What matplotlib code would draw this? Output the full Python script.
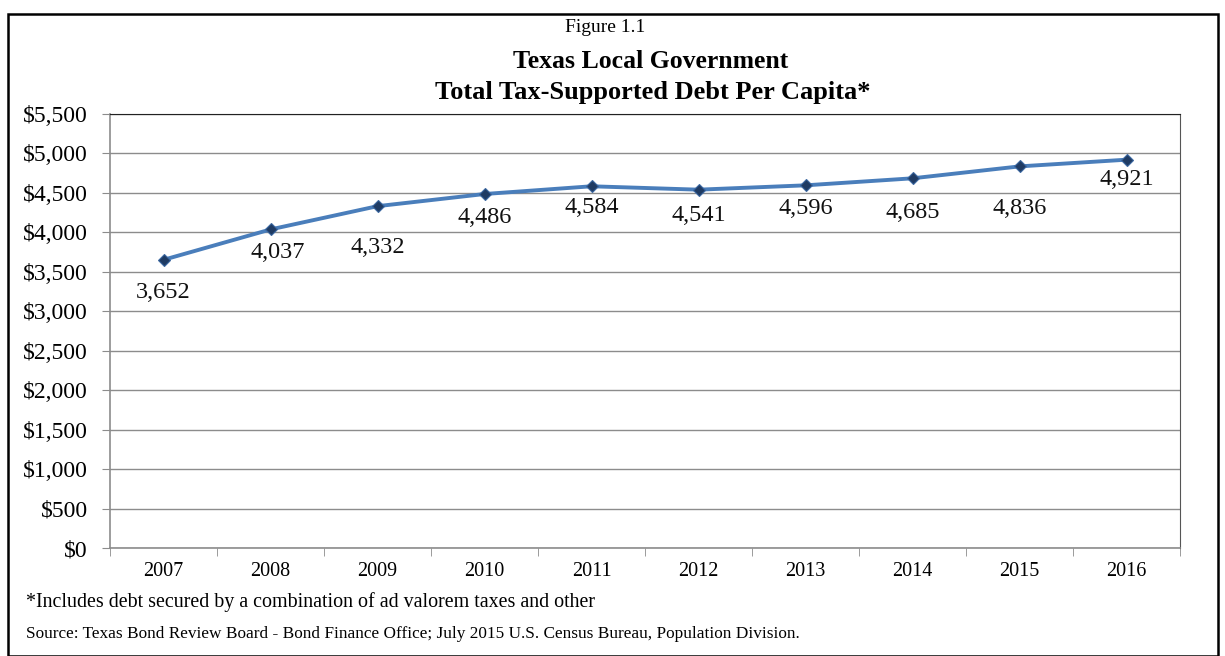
import matplotlib.pyplot as plt
from matplotlib.patches import Rectangle
from matplotlib.ticker import FuncFormatter

years = ['2007', '2008', '2009', '2010', '2011', '2012', '2013', '2014', '2015', '2016']
debt = [3652, 4037, 4332, 4486, 4584, 4541, 4596, 4685, 4836, 4921]
# label placement below each point (points), as Excel laid them out
label_dy = [-16, -9, -22, -9, -8, -11, -9, -17, -23, -7]
label_dx = [0, 5, 0, 0, 0, 0, 0, 0, 0, 0]

plt.rcParams['font.family'] = ['Liberation Serif', 'DejaVu Serif']

fig = plt.figure(figsize=(12.25, 6.56), dpi=100)
W, H = 1225, 656

# outer frame
fig.patches.append(Rectangle((8 / W, 0), 1210 / W, (656 - 14) / H, transform=fig.transFigure,
                             fill=False, edgecolor='black', linewidth=1.8))

ax = fig.add_axes([110 / W, (H - 548) / H, 1070 / W, 434 / H])
x = list(range(len(years)))
ax.plot(x, debt, color='#4A7EBB', linewidth=2.8, zorder=3)
ax.plot(x, debt, linestyle='none', marker='D', markersize=6.5,
        markerfacecolor='#1F3B63', markeredgecolor='#3A66A0', markeredgewidth=0.8, zorder=4)
for i, v in enumerate(debt):
    ax.annotate(f'{v:,}', (i, v), xytext=(label_dx[i], label_dy[i]), textcoords='offset points',
                ha='center', va='top', fontsize=17.5, color='#111111')

ax.set_xlim(-0.5, len(years) - 0.5)
ax.set_ylim(0, 5500)
ax.set_yticks(range(0, 5501, 500))
ax.yaxis.set_major_formatter(FuncFormatter(lambda v, p: f'${int(v):,}'))
ax.grid(axis='y', color='#8C8C8C', linewidth=1.0)
ax.set_axisbelow(True)
ax.set_xticks(x)
ax.set_xticklabels(years, fontsize=14.5)
ax.set_xticks([i - 0.5 for i in range(len(years) + 1)], minor=True)
ax.tick_params(axis='x', which='major', length=0, pad=10)
ax.tick_params(axis='x', which='minor', length=6, color='#8C8C8C', direction='out')
ax.tick_params(axis='y', labelsize=17, length=6, color='#8C8C8C', pad=10)
for s in ['left', 'bottom']:
    ax.spines[s].set_color('#8C8C8C')
    ax.spines[s].set_linewidth(1.2)
ax.spines['top'].set_color('#222222')
ax.spines['right'].set_color('#555555')

fig.text(605 / W, 1 - 28 / H, 'Figure 1.1', ha='center', va='center', fontsize=14)
fig.text(651 / W, 1 - 61 / H, 'Texas Local Government', ha='center', va='center',
         fontsize=18.5, fontweight='bold')
fig.text(653 / W, 1 - 92 / H, 'Total Tax-Supported Debt Per Capita*', ha='center', va='center',
         fontsize=19, fontweight='bold')

fig.text(26 / W, 1 - 602 / H, '*Includes debt secured by a combination of ad valorem taxes and other',
         ha='left', va='center', fontsize=14.4)
fig.text(26 / W, 1 - 634 / H,
         'Source: Texas Bond Review Board - Bond Finance Office; July 2015 U.S. Census Bureau, Population Division.',
         ha='left', va='center', fontsize=12.4)

fig.savefig('out.png', dpi=100)
